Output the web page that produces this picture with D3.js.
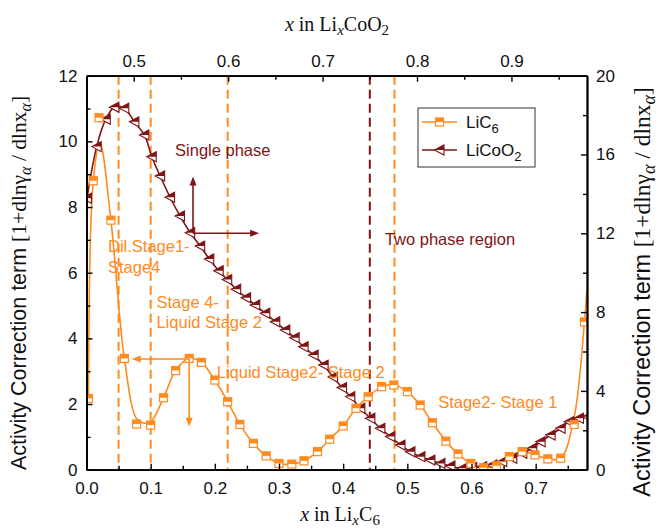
<!DOCTYPE html>
<html>
<head>
<meta charset="utf-8">
<script src="https://cdn.jsdelivr.net/npm/d3@7"></script>
<style>
  html, body { margin: 0; padding: 0; background: #fff; }
  svg { display: block; }
  text { font-family: "Liberation Sans", Arial, sans-serif; }
  .serif { font-family: "Liberation Serif", "Times New Roman", serif; }
</style>
</head>
<body>
<svg id="chart" width="663" height="532"></svg>
<script>
// ---- data ----------------------------------------------------------------
// LiC6: composition x in LixC6 (bottom axis) and activity correction term (left axis)
const lic6X = [0.003, 0.0106, 0.0195, 0.038, 0.059, 0.078, 0.100, 0.120, 0.139, 0.160,
  0.179, 0.200, 0.220, 0.239, 0.260, 0.280, 0.300, 0.320, 0.339, 0.360,
  0.379, 0.400, 0.420, 0.439, 0.460, 0.479, 0.500, 0.520, 0.539, 0.560,
  0.579, 0.599, 0.619, 0.639, 0.659, 0.679, 0.699, 0.719, 0.739, 0.760, 0.776];
const lic6Y = [2.17, 8.80, 10.72, 7.60, 3.39, 1.39, 1.36, 2.19, 3.02, 3.39,
  3.27, 2.73, 2.07, 1.38, 0.80, 0.42, 0.19, 0.17, 0.27, 0.55,
  0.93, 1.33, 1.87, 2.22, 2.53, 2.58, 2.38, 1.97, 1.43, 0.87,
  0.48, 0.19, 0.06, 0.12, 0.40, 0.55, 0.45, 0.33, 0.35, 1.38, 4.50];
// smoothed LiC6 curve drawn under the markers
const lic6CurveX = [0.003, 0.0106, 0.021, 0.038, 0.059, 0.078, 0.089, 0.100, 0.120, 0.139, 0.160,
  0.179, 0.200, 0.220, 0.239, 0.260, 0.280, 0.300, 0.320, 0.339, 0.360,
  0.379, 0.400, 0.420, 0.439, 0.460, 0.479, 0.500, 0.520, 0.539, 0.560,
  0.579, 0.599, 0.619, 0.639, 0.659, 0.679, 0.699, 0.719, 0.739, 0.760, 0.776, 0.780];
const lic6CurveY = [2.17, 8.80, 9.96, 7.60, 3.39, 1.55, 1.42, 1.45, 2.19, 3.02, 3.39,
  3.27, 2.73, 2.07, 1.38, 0.80, 0.42, 0.19, 0.17, 0.27, 0.55,
  0.93, 1.33, 1.87, 2.22, 2.53, 2.58, 2.38, 1.97, 1.43, 0.87,
  0.48, 0.19, 0.06, 0.12, 0.40, 0.55, 0.45, 0.33, 0.35, 1.60, 4.50, 5.50];

// LiCoO2: composition x in LixCoO2 (top axis) and activity correction term (right axis)
const licoo2X = [0.4505, 0.4608, 0.4704, 0.4795, 0.4900, 0.5007, 0.5113, 0.5191, 0.5280, 0.5385,
  0.5490, 0.5598, 0.5704, 0.5800, 0.5900, 0.5990, 0.6085, 0.6190, 0.6287, 0.6393,
  0.6499, 0.6605, 0.6704, 0.6799, 0.6905, 0.7011, 0.7111, 0.7206, 0.7294, 0.7400,
  0.7506, 0.7612, 0.7718, 0.7825, 0.7930, 0.8036, 0.8142, 0.8248, 0.8354, 0.8479,
  0.8585, 0.8690, 0.8797, 0.8903, 0.9009, 0.9115, 0.9221, 0.9309, 0.9415, 0.9521,
  0.9610, 0.9715, 0.9804];
const licoo2Y = [13.78, 16.40, 17.79, 18.40, 18.35, 17.66, 16.99, 15.89, 14.91, 13.83,
  12.88, 12.03, 11.35, 10.70, 10.10, 9.65, 9.16, 8.73, 8.36, 7.94,
  7.51, 7.09, 6.70, 6.24, 5.82, 5.31, 4.70, 4.17, 3.71, 3.12,
  2.61, 2.10, 1.68, 1.25, 0.91, 0.66, 0.49, 0.32, 0.19, 0.07,
  0.12, 0.15, 0.24, 0.41, 0.58, 0.83, 1.09, 1.42, 1.76, 2.10,
  2.44, 2.61, 2.69];

// stage boundaries (x in LixC6) and the LiCoO2 phase boundary (x in LixCoO2)
const stageBounds = [0.05, 0.10, 0.22, 0.48];
const phaseBounds = [0.75];

// tick values
const bottomMajor = [0, 0.1, 0.2, 0.3, 0.4, 0.5, 0.6, 0.7];
const bottomMinor = [0.05, 0.15, 0.25, 0.35, 0.45, 0.55, 0.65, 0.75];
const topMajor = [0.5, 0.6, 0.7, 0.8, 0.9];
const topMinor = [0.55, 0.65, 0.75, 0.85, 0.95];
const leftMajor = [0, 2, 4, 6, 8, 10, 12];
const leftMinor = [1, 3, 5, 7, 9, 11];
const rightMajor = [0, 4, 8, 12, 16, 20];
const rightMinor = [2, 6, 10, 14, 18];

// ---- layout ----------------------------------------------------------------
const ORANGE = "#FF8A1E";
const DARKRED = "#7E1416";
const L = 86.5, R = 587, T = 75.7, B = 469.7;

const svg = d3.select("#chart");
const xB = d3.scaleLinear().domain([0, 0.78]).range([L, R]);
const xT = d3.scaleLinear().domain([0.45, 0.98]).range([L, R]);
const yL = d3.scaleLinear().domain([0, 12]).range([B, T]);
const yR = d3.scaleLinear().domain([0, 20]).range([B, T]);

const plot = svg.append("g");

// dashed boundaries
plot.selectAll("line.stage").data(stageBounds).join("line")
  .attr("class", "stage")
  .attr("x1", d => xB(d)).attr("x2", d => xB(d))
  .attr("y1", T).attr("y2", B)
  .attr("stroke", ORANGE).attr("stroke-width", 2)
  .attr("stroke-dasharray", "9,5");
plot.selectAll("line.phase").data(phaseBounds).join("line")
  .attr("class", "phase")
  .attr("x1", d => xT(d)).attr("x2", d => xT(d))
  .attr("y1", T).attr("y2", B)
  .attr("stroke", DARKRED).attr("stroke-width", 2)
  .attr("stroke-dasharray", "9,5");

// curves
const lic6Curve = lic6CurveX.map((x, i) => [x, lic6CurveY[i]]);
const lic6Pts = lic6X.map((x, i) => [x, lic6Y[i]]);
const licoo2Pts = licoo2X.map((x, i) => [x, licoo2Y[i]]);

svg.append("clipPath").attr("id", "plotclip")
  .append("rect").attr("x", L).attr("y", T).attr("width", R - L).attr("height", B - T);

const curves = plot.append("g").attr("clip-path", "url(#plotclip)");

curves.append("path")
  .datum(lic6Curve)
  .attr("fill", "none").attr("stroke", ORANGE).attr("stroke-width", 1.6)
  .attr("d", d3.line().x(d => xB(d[0])).y(d => yL(d[1])).curve(d3.curveCatmullRom.alpha(0.5)));

curves.append("path")
  .datum(licoo2Pts)
  .attr("fill", "none").attr("stroke", DARKRED).attr("stroke-width", 1.6)
  .attr("d", d3.line().x(d => xT(d[0])).y(d => yR(d[1])).curve(d3.curveCatmullRom.alpha(0.5)));

// half-filled square marker
function squareMarker(g, color) {
  const s = 4;
  g.append("rect").attr("x", -s).attr("y", -s).attr("width", 2 * s).attr("height", 2 * s)
    .attr("fill", "#fff").attr("stroke", color).attr("stroke-width", 1.2);
  g.append("rect").attr("x", -s).attr("y", -s).attr("width", 2 * s).attr("height", s)
    .attr("fill", color);
}
// half-filled left-pointing triangle marker
function triangleMarker(g, color) {
  g.append("path").attr("d", "M-5,0L4.5,-5L4.5,5Z")
    .attr("fill", "#fff").attr("stroke", color).attr("stroke-width", 1.1);
  g.append("path").attr("d", "M-5,0L4.5,-5L4.5,0Z").attr("fill", color);
}

curves.selectAll("g.tri").data(licoo2Pts).join("g")
  .attr("class", "tri")
  .attr("transform", d => `translate(${xT(d[0])},${yR(d[1])})`)
  .each(function () { triangleMarker(d3.select(this), DARKRED); });

curves.selectAll("g.sq").data(lic6Pts).join("g")
  .attr("class", "sq")
  .attr("transform", d => `translate(${xB(d[0])},${yL(d[1])})`)
  .each(function () { squareMarker(d3.select(this), ORANGE); });

// ---- annotations -----------------------------------------------------------
const ann = svg.append("g").attr("font-size", 16.5);

function arrowHead(g, x, y, dir, color) {
  // dir: "up", "down", "left", "right"
  const len = 9, half = 3.5;
  let p;
  if (dir === "up") p = [[x, y], [x - half, y + len], [x + half, y + len]];
  if (dir === "down") p = [[x, y], [x - half, y - len], [x + half, y - len]];
  if (dir === "left") p = [[x, y], [x + len, y - half], [x + len, y + half]];
  if (dir === "right") p = [[x, y], [x - len, y - half], [x - len, y + half]];
  g.append("path").attr("d", "M" + p.map(q => q.join(",")).join("L") + "Z").attr("fill", color);
}

// single phase arrows (LiCoO2)
{
  const ox = xB(0.166), oy = yL(7.2);
  const upY = yL(8.93), rightX = xB(0.269);
  ann.append("line").attr("x1", ox).attr("y1", oy).attr("x2", ox).attr("y2", upY + 4)
    .attr("stroke", DARKRED).attr("stroke-width", 1.6);
  ann.append("line").attr("x1", ox).attr("y1", oy).attr("x2", rightX - 4).attr("y2", oy)
    .attr("stroke", DARKRED).attr("stroke-width", 1.6);
  arrowHead(ann, ox, upY, "up", DARKRED);
  arrowHead(ann, rightX, oy, "right", DARKRED);
}
// stage arrows (LiC6)
{
  const ox = xB(0.16), oy = yL(3.37);
  const leftX = xB(0.0705), downY = yL(1.31);
  ann.append("line").attr("x1", ox).attr("y1", oy).attr("x2", leftX + 4).attr("y2", oy)
    .attr("stroke", ORANGE).attr("stroke-width", 1.6);
  ann.append("line").attr("x1", ox).attr("y1", oy).attr("x2", ox).attr("y2", downY - 4)
    .attr("stroke", ORANGE).attr("stroke-width", 1.6);
  arrowHead(ann, leftX, oy, "left", ORANGE);
  arrowHead(ann, ox, downY, "down", ORANGE);
}

const labels = [
  { t: "Single phase", x: xB(0.138), y: yL(9.56), c: DARKRED },
  { t: "Two phase region", x: xB(0.465), y: yL(6.84), c: DARKRED },
  { t: "Dil.Stage1-", x: xB(0.0335), y: yL(6.63), c: ORANGE },
  { t: "Stage4", x: xB(0.0335), y: yL(5.99), c: ORANGE },
  { t: "Stage 4-", x: xB(0.109), y: yL(4.93), c: ORANGE },
  { t: "Liquid Stage 2", x: xB(0.109), y: yL(4.32), c: ORANGE },
  { t: "Liquid Stage2- Stage 2", x: xB(0.203), y: yL(2.79), c: ORANGE },
  { t: "Stage2- Stage 1", x: xB(0.548), y: yL(1.89), c: ORANGE }
];
ann.selectAll("text.lab").data(labels).join("text")
  .attr("class", "lab")
  .attr("x", d => d.x).attr("y", d => d.y)
  .attr("fill", d => d.c)
  .text(d => d.t);

// ---- axes ------------------------------------------------------------------
const fmt1 = d3.format(".1f");
function styleAxis(g) {
  g.selectAll("path.domain").attr("stroke", "#000").attr("stroke-width", 1.8);
  g.selectAll(".tick line").attr("stroke", "#000").attr("stroke-width", 1.4);
  g.selectAll(".tick text").attr("font-size", 17).attr("fill", "#111")
    .attr("font-family", "'Liberation Sans', Arial, sans-serif");
}

svg.append("g").attr("transform", `translate(0,${B})`)
  .call(d3.axisBottom(xB).tickValues(bottomMajor).tickFormat(fmt1).tickSize(-6).tickSizeOuter(0).tickPadding(12))
  .call(styleAxis);
svg.append("g").attr("transform", `translate(0,${B})`)
  .call(d3.axisBottom(xB).tickValues(bottomMinor).tickFormat("").tickSize(-4).tickSizeOuter(0))
  .call(styleAxis);

svg.append("g").attr("transform", `translate(0,${T})`)
  .call(d3.axisTop(xT).tickValues(topMajor).tickFormat(fmt1).tickSize(-6).tickSizeOuter(0).tickPadding(9))
  .call(styleAxis);
svg.append("g").attr("transform", `translate(0,${T})`)
  .call(d3.axisTop(xT).tickValues(topMinor).tickFormat("").tickSize(-4).tickSizeOuter(0))
  .call(styleAxis);

svg.append("g").attr("transform", `translate(${L},0)`)
  .call(d3.axisLeft(yL).tickValues(leftMajor).tickFormat(d3.format("d")).tickSize(-6).tickSizeOuter(0).tickPadding(9))
  .call(styleAxis);
svg.append("g").attr("transform", `translate(${L},0)`)
  .call(d3.axisLeft(yL).tickValues(leftMinor).tickFormat("").tickSize(-4).tickSizeOuter(0))
  .call(styleAxis);

svg.append("g").attr("transform", `translate(${R},0)`)
  .call(d3.axisRight(yR).tickValues(rightMajor).tickFormat(d3.format("d")).tickSize(-6).tickSizeOuter(0).tickPadding(9))
  .call(styleAxis);
svg.append("g").attr("transform", `translate(${R},0)`)
  .call(d3.axisRight(yR).tickValues(rightMinor).tickFormat("").tickSize(-4).tickSizeOuter(0))
  .call(styleAxis);

// ---- axis titles -----------------------------------------------------------
function compTitle(x, y, tail, sub2) {
  const t = svg.append("text").attr("class", "serif").attr("x", x).attr("y", y)
    .attr("text-anchor", "middle").attr("font-size", 20).attr("fill", "#111");
  t.append("tspan").attr("font-style", "italic").text("x");
  t.append("tspan").text(" in Li");
  t.append("tspan").attr("font-style", "italic").attr("font-size", 15).attr("dy", 4).text("x");
  t.append("tspan").attr("dy", -4).text(tail);
  t.append("tspan").attr("font-size", 15).attr("dy", 4).text(sub2);
  return t;
}
compTitle(337, 31, "CoO", "2");
compTitle(340, 521, "C", "6");

function yTitle(x, y, size) {
  const t = svg.append("text").attr("transform", `translate(${x},${y}) rotate(-90)`)
    .attr("text-anchor", "middle").attr("font-size", size).attr("fill", "#111");
  const serif = "'Liberation Serif', 'Times New Roman', serif";
  const sub = Math.round(size * 0.75);
  t.append("tspan").text("Activity Correction term ");
  t.append("tspan").attr("font-family", serif).text("[1+dln\u03B3");
  t.append("tspan").attr("font-family", serif).attr("font-style", "italic")
    .attr("font-size", sub).attr("dy", 5).text("\u03B1");
  t.append("tspan").attr("font-family", serif).attr("dy", -5).text(" / dlnx");
  t.append("tspan").attr("font-family", serif).attr("font-style", "italic")
    .attr("font-size", sub).attr("dy", 5).text("\u03B1");
  t.append("tspan").attr("font-family", serif).attr("dy", -5).text("]");
}
yTitle(26, 283, 21.5);
yTitle(650, 292, 23.5);

// ---- legend ----------------------------------------------------------------
const lg = svg.append("g");
lg.append("rect").attr("x", 418).attr("y", 108).attr("width", 117).attr("height", 59)
  .attr("fill", "#fff").attr("stroke", "#333").attr("stroke-width", 1);
const legendItems = [
  { name: "LiC", sub: "6", color: ORANGE, marker: squareMarker, y: 122 },
  { name: "LiCoO", sub: "2", color: DARKRED, marker: triangleMarker, y: 150 }
];
legendItems.forEach(it => {
  lg.append("line").attr("x1", 422).attr("x2", 457).attr("y1", it.y).attr("y2", it.y)
    .attr("stroke", it.color).attr("stroke-width", 1.6);
  it.marker(lg.append("g").attr("transform", `translate(439.5,${it.y})`), it.color);
  const t = lg.append("text").attr("x", 466).attr("y", it.y + 6).attr("font-size", 17).attr("fill", "#111");
  t.append("tspan").text(it.name);
  t.append("tspan").attr("font-size", 13).attr("dy", 5).text(it.sub);
});
</script>
</body>
</html>
